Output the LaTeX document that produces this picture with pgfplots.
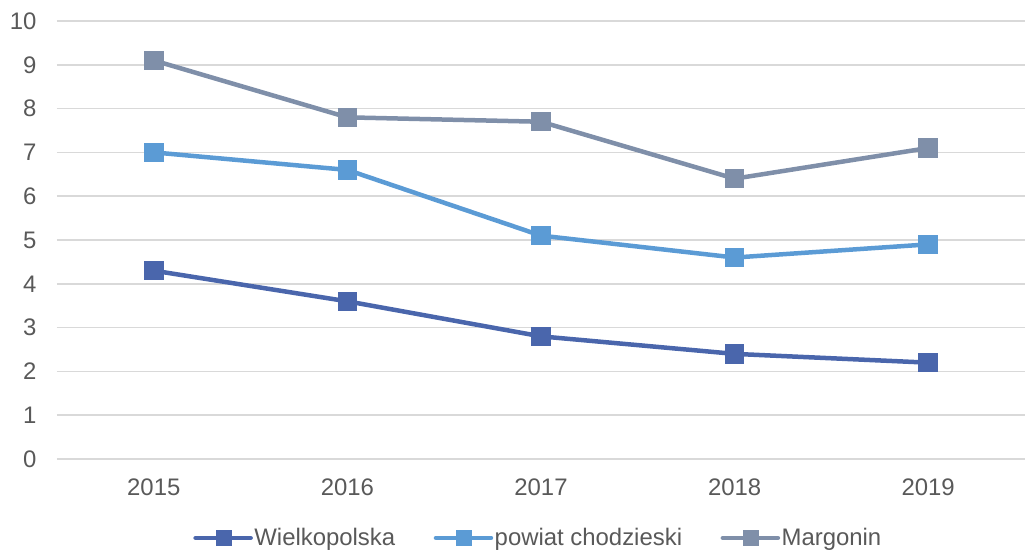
\documentclass[border=0pt]{standalone}
\usepackage{pgfplots}
\pgfplotsset{compat=1.18}
\usepackage{fontspec}
\setmainfont{Liberation Sans}
\definecolor{wlkp}{HTML}{4A66AC}
\definecolor{powiat}{HTML}{5B9BD5}
\definecolor{marg}{HTML}{7F8FA9}
\definecolor{txt}{HTML}{595959}
\definecolor{gridc}{HTML}{D9D9D9}

\begin{document}
\begin{tikzpicture}
  \path[use as bounding box] (0,0) rectangle (1025bp,-551bp);
  \begin{axis}[
    at={(57bp,-21bp)}, anchor=north west,
    scale only axis,
    width=968bp, height=438bp,
    xmin=-0.5, xmax=4.5,
    ymin=0, ymax=10,
    xtick={0,1,2,3,4},
    xticklabels={2015,2016,2017,2018,2019},
    ytick={0,1,...,10},
    axis line style={draw=none},
    major tick length=0pt,
    ymajorgrids,
    grid style={gridc, line width=1.5bp},
    tick label style={font=\fontsize{24}{28}\selectfont, text=txt},
    /pgf/number format/assume math mode=true,
    yticklabel style={xshift=-17bp},
    xticklabel style={yshift=-16bp},
    legend columns=3,
    legend style={at={(0.497,-0.18)}, anchor=center, draw=none,
      font=\fontsize{24}{28}\selectfont, text=txt,
      nodes={inner sep=1.5bp},
      /tikz/every even column/.append style={column sep=37bp}},
    legend image code/.code={
      \draw[#1, line width=4.5bp, line cap=round] (0bp,0bp) -- (55bp,0bp);
      \draw[#1, mark=square*, mark size=7.5bp, line width=0pt] plot coordinates {(28bp,0bp)};
    },
    every axis plot/.append style={line width=4.5bp, mark=square*, mark size=7.5bp},
  ]
    \addplot[wlkp, mark options={fill=wlkp, draw=wlkp}] coordinates {(0,4.3) (1,3.6) (2,2.8) (3,2.4) (4,2.2)};
    \addlegendentry{Wielkopolska}
    \addplot[powiat, mark options={fill=powiat, draw=powiat}] coordinates {(0,7.0) (1,6.6) (2,5.1) (3,4.6) (4,4.9)};
    \addlegendentry{powiat chodzieski}
    \addplot[marg, mark options={fill=marg, draw=marg}] coordinates {(0,9.1) (1,7.8) (2,7.7) (3,6.4) (4,7.1)};
    \addlegendentry{Margonin}
  \end{axis}
\end{tikzpicture}
\end{document}
